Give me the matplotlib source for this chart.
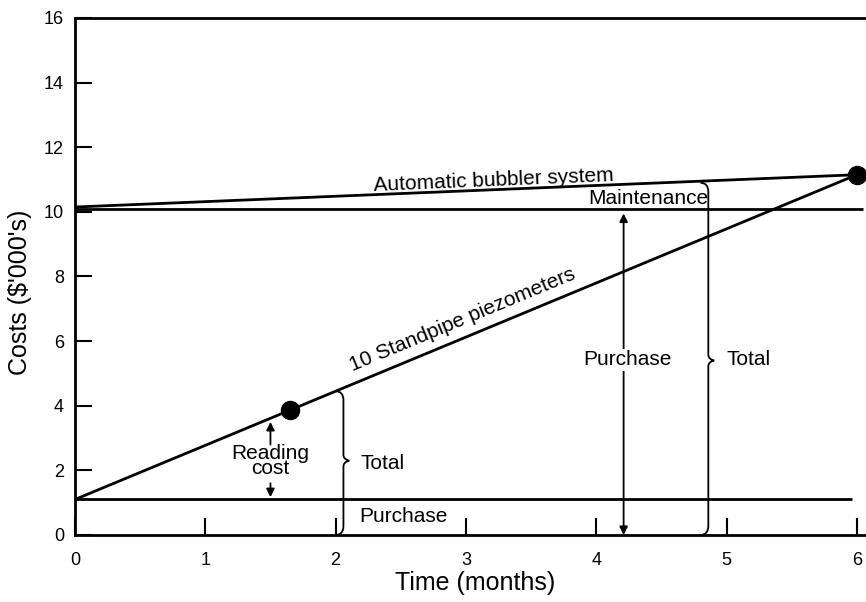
'''
Cost comparison: standpipe piezometers vs automatic bubbler system
'''

import numpy as np
import matplotlib
matplotlib.use('Agg')
import matplotlib.pyplot as plt
from matplotlib.path import Path
from matplotlib.patches import PathPatch

plt.rcParams['font.family'] = ['Liberation Sans', 'DejaVu Sans']

# ═══ Data ═════════════════════════════════════════════════════════════════

# Time axis (months)
x_ticks = [0, 1, 2, 3, 4, 5, 6]
y_ticks = [0, 2, 4, 6, 8, 10, 12, 14, 16]

# Standpipe piezometers: purchase + reading cost
piezo_time = [0, 6]
piezo_cost = [1.1, 11.15]
piezo_purchase_time = [0, 5.96]
piezo_purchase = [1.1, 1.1]

# Automatic bubbler: purchase + maintenance
bubbler_time = [0, 6]
bubbler_cost = [10.15, 11.15]
bubbler_purchase_time = [0, 6.05]
bubbler_purchase = [10.1, 10.1]

# Marked points
dot_time = [1.65, 6.0]
dot_cost = [3.87, 11.15]

# Brackets (x, top, middle, bottom)
brace_left = (2.06, 4.45, 2.3, 0.0)
brace_right = (4.86, 10.9, 5.4, 0.0)

# ═══ Figure ═══════════════════════════════════════════════════════════════

fig = plt.figure(figsize=(8.66, 6.02), dpi=100)
ax = fig.add_axes([0.0866, 0.1113, 0.9134, 0.8588])

lw = 2.0

# ─── Lines
ax.plot(piezo_time, piezo_cost, color='black', lw=lw, solid_capstyle='butt')
ax.plot(piezo_purchase_time, piezo_purchase, color='black', lw=lw, solid_capstyle='butt')
ax.plot(bubbler_time, bubbler_cost, color='black', lw=lw, solid_capstyle='butt')
ax.plot(bubbler_purchase_time, bubbler_purchase, color='black', lw=lw, solid_capstyle='butt')
ax.plot(dot_time, dot_cost, 'o', color='black', ms=13, clip_on=False, zorder=5)

# ─── Braces
def brace(ax, xb, ytop, ymid, ybot, dx=0.06, dy=0.28, tip=0.045):
  verts = [
    (xb - dx, ytop), (xb, ytop), (xb, ytop - dy),
    (xb, ymid + 0.18),
    (xb, ymid + 0.04), (xb + tip, ymid),
    (xb, ymid - 0.04), (xb, ymid - 0.18),
    (xb, ybot + dy),
    (xb, ybot), (xb - dx, ybot),
  ]
  codes = [
    Path.MOVETO, Path.CURVE3, Path.CURVE3,
    Path.LINETO,
    Path.CURVE3, Path.CURVE3,
    Path.CURVE3, Path.CURVE3,
    Path.LINETO,
    Path.CURVE3, Path.CURVE3,
  ]
  ax.add_patch(PathPatch(Path(verts, codes), fill=False, lw=1.3,
                         edgecolor='black', clip_on=False))

brace(ax, *brace_left)
brace(ax, *brace_right)

# ─── Arrows
arrow = dict(arrowstyle='-|>', color='black', lw=1.3, mutation_scale=12,
             shrinkA=0, shrinkB=0)
ax.annotate('', xy=(1.5, 3.5), xytext=(1.5, 2.8), arrowprops=arrow)
ax.annotate('', xy=(1.5, 1.17), xytext=(1.5, 1.6), arrowprops=arrow)
arrow2 = dict(arrowstyle='<|-|>', color='black', lw=1.3, mutation_scale=12,
              shrinkA=0, shrinkB=0)
ax.annotate('', xy=(4.21, 9.95), xytext=(4.21, 0.0), arrowprops=arrow2)

# ─── Labels
fs = 15
ax.text(3.21, 10.98, 'Automatic bubbler system', fontsize=fs, ha='center',
        va='center', rotation=2.4, rotation_mode='anchor')
ax.text(4.86, 10.4, 'Maintenance', fontsize=fs, ha='right', va='center')
ax.text(2.97, 6.65, '10 Standpipe piezometers', fontsize=fs, ha='center',
        va='center', rotation=22.5, rotation_mode='anchor')
ax.text(4.24, 5.42, 'Purchase', fontsize=fs, ha='center', va='center',
        bbox=dict(facecolor='white', edgecolor='none', pad=1))
ax.text(5.0, 5.42, 'Total', fontsize=fs, ha='left', va='center')
ax.text(1.5, 2.29, 'Reading\ncost', fontsize=fs, ha='center', va='center',
        linespacing=0.75)
ax.text(2.19, 2.2, 'Total', fontsize=fs, ha='left', va='center')
ax.text(2.52, 0.56, 'Purchase', fontsize=fs, ha='center', va='center')

# ─── Axes settings
ax.set_xlim(0, 6.07)
ax.set_ylim(0, 16)
ax.set_xticks(x_ticks)
ax.set_yticks(y_ticks)
ax.tick_params(direction='in', length=12, width=1.5, labelsize=13)
ax.tick_params(axis='x', pad=12)
ax.tick_params(axis='y', pad=8)
ax.spines['right'].set_visible(False)
for s in ['left', 'top', 'bottom']:
  ax.spines[s].set_linewidth(2)

ax.set_xlabel('Time (months)', fontsize=18)
ax.set_ylabel("Costs (\\$'000's)", fontsize=18)
ax.xaxis.set_label_coords(0.506, -0.07)
ax.yaxis.set_label_coords(-0.054, 0.47)

fig.savefig('out.png', dpi=100)
